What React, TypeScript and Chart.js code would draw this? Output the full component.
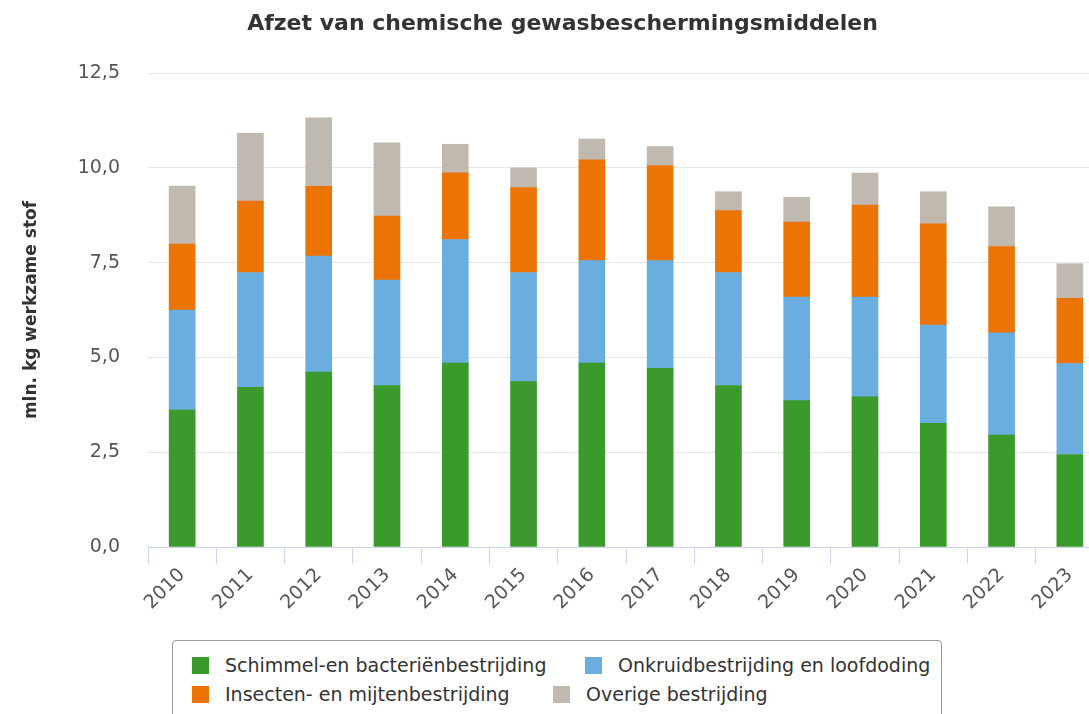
import React, { useEffect, useRef } from "react";
import { Chart, registerables } from "chart.js";

Chart.register(...registerables);

const years = ["2010","2011","2012","2013","2014","2015","2016","2017","2018","2019","2020","2021","2022","2023"];
const schimmel = [3.61, 4.21, 4.61, 4.26, 4.85, 4.36, 4.85, 4.71, 4.26, 3.86, 3.96, 3.26, 2.95, 2.44];
const onkruid = [2.64, 3.03, 3.06, 2.78, 3.26, 2.88, 2.70, 2.84, 2.98, 2.73, 2.63, 2.59, 2.70, 2.40];
const insecten = [1.74, 1.88, 1.84, 1.69, 1.76, 2.24, 2.66, 2.51, 1.63, 1.98, 2.43, 2.67, 2.27, 1.72];
const overige = [1.53, 1.79, 1.81, 1.93, 0.75, 0.52, 0.55, 0.50, 0.50, 0.65, 0.84, 0.85, 1.05, 0.91];
const yTicks = [0, 2.5, 5, 7.5, 10, 12.5];

const seriesNames = ["Schimmel-en bacteriënbestrijding", "Onkruidbestrijding en loofdoding", "Insecten- en mijtenbestrijding", "Overige bestrijding"];
const colors = ["#3a9a2b", "#6aaddf", "#ec7404", "#c0b9b0"];

const FONT = "'DejaVu Sans', Verdana, sans-serif";

export default function App() {
  const ref = useRef<HTMLCanvasElement | null>(null);
  useEffect(() => {
    if (!ref.current) return;
    const data = [schimmel, onkruid, insecten, overige];
    const chart = new Chart(ref.current, {
      type: "bar",
      data: {
        labels: years,
        datasets: data.map((d, i) => ({
          label: seriesNames[i],
          data: d,
          backgroundColor: colors[i],
          borderWidth: 0,
          barThickness: 26,
        })),
      },
      options: {
        animation: false,
        responsive: false,
        maintainAspectRatio: false,
        layout: { padding: { left: 21, right: 0, top: 0, bottom: 0 } },
        plugins: {
          legend: { display: false },
          tooltip: { enabled: false },
          title: {
            display: true,
            text: "Afzet van chemische gewasbeschermingsmiddelen",
            color: "#333333",
            font: { family: FONT, size: 22, weight: "bold" },
            padding: { top: 11, bottom: 35.6 },
          },
        },
        scales: {
          x: {
            stacked: true,
            offset: true,
            grid: {
              offset: true,
              drawOnChartArea: false,
              drawTicks: true,
              tickLength: 17,
              color: "#ccd6eb",
            },
            border: { color: "#ccd6eb", width: 1 },
            ticks: {
              color: "#555555",
              font: { family: FONT, size: 19 },
              minRotation: 45,
              maxRotation: 45,
              padding: 0,
              autoSkip: false,
            },
            afterFit: (s: any) => { s.height = 83; },
          },
          y: {
            stacked: true,
            min: 0,
            max: 12.5,
            afterBuildTicks: (s: any) => { s.ticks = yTicks.map((v) => ({ value: v })); },
            grid: { color: "#e6e6e6", drawTicks: false },
            border: { display: false },
            ticks: {
              color: "#555555",
              font: { family: FONT, size: 19 },
              padding: 28,
              callback: (v: any) => Number(v).toFixed(1).replace(".", ","),
            },
            title: {
              display: true,
              text: "mln. kg werkzame stof",
              color: "#333333",
              font: { family: FONT, size: 17, weight: "bold" },
              padding: { top: 0, bottom: 0 },
            },
            afterFit: (s: any) => { s.width = 127; },
          },
        },
      },
    });
    return () => chart.destroy();
  }, []);

  const legendPos = [
    { l: 19, t: 13 },
    { l: 412, t: 13 },
    { l: 19, t: 42 },
    { l: 380, t: 42 },
  ];

  return (
    <div style={{ position: "fixed", left: 0, top: 0, width: 1089, height: 714, overflow: "hidden", background: "#ffffff" }}>
      <canvas ref={ref} width={1104} height={630} style={{ position: "absolute", left: 0, top: 0, width: 1104, height: 630 }} />
      <div
        style={{
          position: "absolute",
          left: 172,
          top: 640,
          width: 770,
          height: 90,
          border: "1px solid #999999",
          borderRadius: 4,
          boxSizing: "border-box",
          fontFamily: FONT,
          fontSize: 19,
          color: "#333333",
        }}
      >
        {seriesNames.map((n, i) => (
          <div
            key={n}
            style={{
              position: "absolute",
              left: legendPos[i].l,
              top: legendPos[i].t,
              height: 22,
              display: "flex",
              alignItems: "center",
              whiteSpace: "nowrap",
            }}
          >
            <span style={{ display: "inline-block", width: 17, height: 17, background: colors[i], marginRight: 16 }} />
            <span>{n}</span>
          </div>
        ))}
      </div>
    </div>
  );
}
